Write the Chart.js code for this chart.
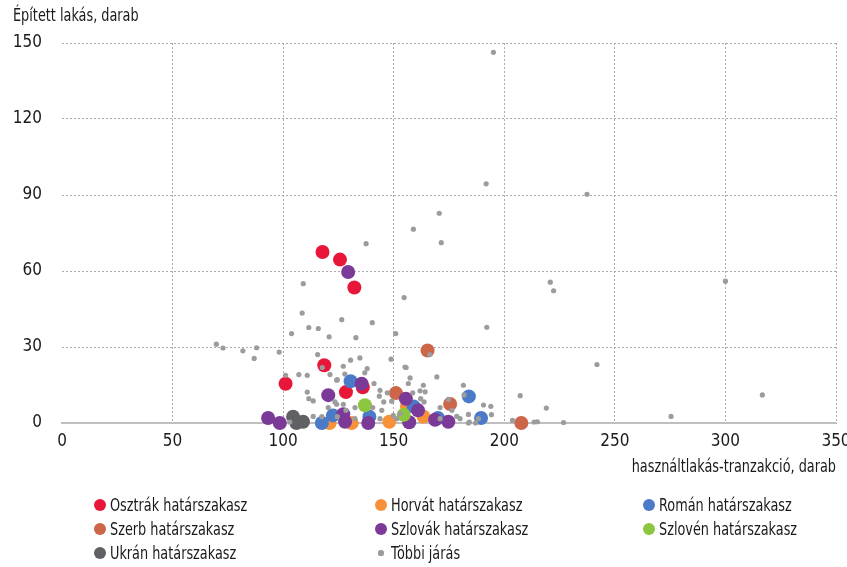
<!DOCTYPE html>
<html lang="hu">
<head>
<meta charset="UTF-8" />
<title>Épített lakás és használtlakás-tranzakció</title>
<script src="https://cdn.jsdelivr.net/npm/chart.js"></script>
<style>
  body { margin: 0; background: #fff; }
  #wrap { position: relative; width: 847px; height: 567px; font-family: 'Liberation Sans Narrow', 'DejaVu Sans Condensed', sans-serif; color: #1a1a1a; }
  #legend .item { position: absolute; font-size: 17px; line-height: 20px; white-space: nowrap; transform: scaleX(0.84); transform-origin: left center; }
  #legend .dot { position: absolute; border-radius: 50%; }
</style>
</head>
<body>
<div id="wrap">
  <canvas id="chart" width="847" height="567"></canvas>
  <div id="legend"></div>
</div>
<script>
const FONT = "'Liberation Sans Narrow', 'DejaVu Sans Condensed', sans-serif"
const yTitle = 'Épített lakás, darab'
const xTitle = 'használtlakás-tranzakció, darab'

const seriesNames = [
  'Osztrák határszakasz', 'Horvát határszakasz', 'Román határszakasz',
  'Szerb határszakasz', 'Szlovák határszakasz', 'Szlovén határszakasz',
  'Ukrán határszakasz', 'Többi járás',
]
const seriesColors = ['#e8173a', '#f7923b', '#4a7ac8', '#cd6548', '#7b3a98', '#8cc63e', '#5f6165', '#9c9c9c']

const osztrakX = [117.8, 125.7, 132.2, 118.6, 101.1, 128.4, 136]
const osztrakY = [67.5, 64.5, 53.5, 22.8, 15.5, 12.2, 14.1]
const horvatX = [121, 131, 148, 156, 163.5]
const horvatY = [0, 0, 0.5, 6.5, 2.5]
const romanX = [117.5, 122.5, 130.5, 139, 159, 170, 184, 189.5]
const romanY = [0, 3, 16.5, 2.5, 6.5, 2, 10.5, 2]
const szerbX = [165.3, 151, 175.5, 207.7]
const szerbY = [28.6, 11.8, 7.5, 0]
const szlovakX = [93.2, 98.5, 120.4, 129.4, 135.5, 127.2, 128, 138.5, 155.5, 161, 157, 168.7, 174.7]
const szlovakY = [2, 0, 11, 59.6, 15.5, 3.5, 0.5, 0, 9.6, 5, 0.3, 1.3, 0.5]
const szlovenX = [137, 154.5]
const szlovenY = [7, 3.2]
const ukranX = [104.5, 109, 106]
const ukranY = [2.5, 0.5, 0]
const tobbiX = [
  69.8, 72.8, 81.8, 88, 86.9, 98.2, 103.8, 120.8, 115.6, 101.1, 107.1, 110.9, 117.7, 121.2, 124.5,
  110.9, 111.6, 113.6, 120.4, 124.2, 113.6, 103, 117.5, 124.5, 109.1, 108.6, 111.6, 115.9, 126.5,
  137.5, 158.9, 171.5, 154.7, 140.3, 132.9, 150.9, 195.1, 191.8, 237.4, 170.6, 220.8, 222.3, 300,
  192.1, 241.9, 316.7, 275.4, 207.2, 219, 226.8, 203.7, 213.5, 215, 181.5, 181.8, 190.6, 193.9,
  194.2, 183.8, 180, 183.8, 187, 188.3, 148.8, 130.5, 134.7, 127.2, 138, 136.9, 124.2, 127.9,
  155.6, 157.4, 156.6, 169.5, 141.1, 143.8, 143.5, 147.1, 149.1, 145.5, 161.9, 164.2, 158.6,
  162.2, 163.7, 171, 174.7, 176.3, 178.5, 171, 123.4, 127.2, 132.5, 128.4, 132.5, 143.8, 151.4,
  152.9, 149.8, 144.6, 140.5, 184.2, 163.4, 155.1, 166.3,
]
const tobbiY = [
  31.1, 29.6, 28.5, 29.7, 25.5, 28, 35.3, 34, 27, 18.8, 19.1, 18.8, 21.9, 19.1, 17.1,
  12.2, 9.6, 8.7, 6.1, 7.4, 2.6, 0.4, 2.5, 2.5, 55, 43.4, 37.7, 37.3, 40.8,
  70.8, 76.5, 71.2, 49.5, 39.6, 33.7, 35.3, 146.3, 94.4, 90.3, 82.8, 55.6, 52.2, 56,
  37.8, 23.1, 11.1, 2.6, 10.8, 5.9, 0.2, 1, 0.4, 0.5, 14.9, 11.1, 7.1, 6.6,
  3.3, 3.4, 1.7, 0, 0, 1.7, 25.2, 24.8, 25.7, 22.4, 21.5, 19.8, 16.9, 19.3,
  21.9, 17.8, 15.6, 18.2, 15.6, 12.9, 10.6, 11.9, 8.6, 8.3, 12.7, 12.3, 11.9,
  9.6, 8.3, 6.1, 9.3, 5, 2.6, 1.7, 8.3, 7.4, 6.1, 5, 1.7, 1.7, 1.7,
  3.7, 3, 5, 6.1, 0.4, 14.9, 22.1, 27,
]

const xs = [osztrakX, horvatX, romanX, szerbX, szlovakX, szlovenX, ukranX, tobbiX]
const ys = [osztrakY, horvatY, romanY, szerbY, szlovakY, szlovenY, ukranY, tobbiY]

const datasets = seriesNames.map((name, i) => ({
  label: name,
  data: xs[i].map((x, j) => ({ x: x, y: ys[i][j] })),
  backgroundColor: seriesColors[i],
  borderWidth: 0,
  pointRadius: i === 7 ? 2.6 : 7,
  pointHoverRadius: i === 7 ? 2.6 : 7,
  order: i === 7 ? -1 : 10 - i,
  clip: false,
}))

const gridColor = (c) => (c.tick && c.tick.value === 0 ? 'rgba(0,0,0,0)' : '#ababab')

// axis titles sit outside the plot: top-left and under the x axis, right aligned
const axisTitles = {
  id: 'axisTitles',
  afterDraw(chart) {
    const { ctx, chartArea } = chart
    ctx.save()
    ctx.font = '17px ' + FONT
    ctx.fillStyle = '#1a1a1a'
    ctx.textBaseline = 'middle'
    ctx.save()
    ctx.translate(13, 17)
    ctx.scale(0.84, 1)
    ctx.textAlign = 'left'
    ctx.fillText(yTitle, 0, 0)
    ctx.restore()
    ctx.translate(chartArea.right, 468)
    ctx.scale(0.84, 1)
    ctx.textAlign = 'right'
    ctx.fillText(xTitle, 0, 0)
    ctx.restore()
  },
}

const chart = new Chart(document.getElementById('chart'), {
  type: 'scatter',
  data: { datasets: datasets },
  options: {
    responsive: false,
    animation: false,
    events: [],
    layout: { padding: { top: 43, right: 11, bottom: 114, left: 0 } },
    plugins: { legend: { display: false }, tooltip: { enabled: false } },
    scales: {
      x: {
        min: 0,
        max: 350,
        afterFit: (s) => {
          s.height = 30
          s.paddingLeft = 0
          s.paddingRight = 0
        },
        ticks: { stepSize: 50, padding: 8, color: '#1a1a1a', font: { family: FONT, size: 17 } },
        grid: { color: gridColor, lineWidth: 1, drawTicks: false },
        border: { display: true, color: '#bfbfbf', width: 2, dash: [2, 2] },
      },
      y: {
        min: 0,
        max: 150,
        afterFit: (s) => { s.width = 62 },
        ticks: { stepSize: 30, padding: 20, color: '#1a1a1a', font: { family: FONT, size: 17 } },
        grid: { color: gridColor, lineWidth: 1, drawTicks: false },
        border: { display: false, dash: [2, 2] },
      },
    },
  },
  plugins: [axisTitles],
})

// legend in three columns, like the original
const legendCols = [100, 381, 649]
const legendRows = [505, 529, 553]
const legendEl = document.getElementById('legend')
chart.data.datasets.forEach((ds, i) => {
  const cx = legendCols[i % 3]
  const cy = legendRows[Math.floor(i / 3)]
  const r = i === 7 ? 2.6 : 6
  const dot = document.createElement('div')
  dot.className = 'dot'
  dot.style.left = cx - r + 'px'
  dot.style.top = cy - r + 'px'
  dot.style.width = dot.style.height = r * 2 + 'px'
  dot.style.background = ds.backgroundColor
  legendEl.appendChild(dot)
  const item = document.createElement('div')
  item.className = 'item'
  item.style.left = cx + 10 + 'px'
  item.style.top = cy - 10 + 'px'
  item.textContent = ds.label
  legendEl.appendChild(item)
})
</script>
</body>
</html>
